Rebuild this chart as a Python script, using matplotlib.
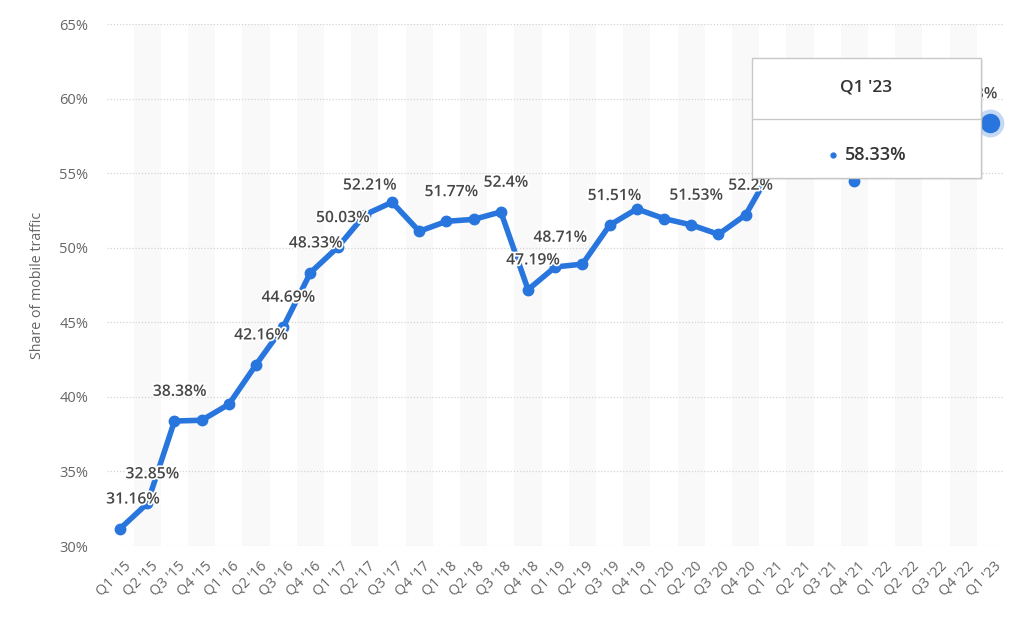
import matplotlib
matplotlib.use("Agg")
import matplotlib.pyplot as plt
import matplotlib.patheffects as pe
from matplotlib.patches import FancyBboxPatch
from matplotlib.lines import Line2D

plt.rcParams['font.family'] = ['Open Sans', 'DejaVu Sans']

categories = ["Q1 '15", "Q2 '15", "Q3 '15", "Q4 '15", "Q1 '16", "Q2 '16", "Q3 '16", "Q4 '16",
              "Q1 '17", "Q2 '17", "Q3 '17", "Q4 '17", "Q1 '18", "Q2 '18", "Q3 '18", "Q4 '18",
              "Q1 '19", "Q2 '19", "Q3 '19", "Q4 '19", "Q1 '20", "Q2 '20", "Q3 '20", "Q4 '20",
              "Q1 '21", "Q2 '21", "Q3 '21", "Q4 '21", "Q1 '22", "Q2 '22", "Q3 '22", "Q4 '22",
              "Q1 '23"]
values = [31.16, 32.85, 38.38, 38.43, 39.5, 42.16, 44.69, 48.33,
          50.03, 52.21, 53.05, 51.1, 51.77, 51.9, 52.4, 47.19,
          48.71, 48.9, 51.51, 52.6, 51.95, 51.53, 50.9, 52.2,
          55.4, 55.9, 56.4, 54.5, 57.0, 58.9, 59.0, 59.2,
          58.33]
labelled = ["Q1 '15", "Q2 '15", "Q3 '15", "Q2 '16", "Q3 '16", "Q4 '16", "Q1 '17", "Q2 '17",
            "Q1 '18", "Q3 '18", "Q4 '18", "Q1 '19", "Q3 '19", "Q2 '20", "Q4 '20", "Q1 '23"]
yticks = [30, 35, 40, 45, 50, 55, 60, 65]
ylabel = "Share of mobile traffic"
tooltip_title = "Q1 '23"
tooltip_value = "58.33%"

blue = "#2876dd"

fig = plt.figure(figsize=(10.24, 6.29), dpi=100)
ax = fig.add_axes([106.5 / 1024, (629 - 546) / 629, 897.5 / 1024, 522 / 629])

n = len(categories)
x = list(range(n))
ax.set_xlim(-0.5, n - 0.5)
ax.set_ylim(30, 65)

# alternating bands
for i in range(1, n, 2):
    ax.axvspan(i - 0.5, i + 0.5, color="#f9f9f9", zorder=0, lw=0)

# grid
for yv in yticks:
    ax.axhline(yv, color="#d4d4d4", lw=0.9, ls=(0, (1, 1.5)), zorder=1)

for s in ax.spines.values():
    s.set_visible(False)
ax.tick_params(length=0)
ax.set_yticks(yticks)
ax.set_yticklabels([f"{v}%" for v in yticks], color="#666666", fontsize=10.5)
ax.tick_params(axis='y', pad=13)
ax.set_xticks(x)
ax.set_xticklabels(categories, rotation=45, ha='right', va='top', rotation_mode='anchor',
                   color="#666666", fontsize=10.3)
ax.tick_params(axis='x', pad=9)
for lbl in ax.get_xticklabels():
    lbl.set_transform(lbl.get_transform() + matplotlib.transforms.ScaledTranslation(3 / 100, 0, fig.dpi_scale_trans))
ax.set_ylabel(ylabel, color="#666666", fontsize=10.3, labelpad=10)

ax.plot(x, values, color=blue, lw=4.0, marker='o', ms=7.5, zorder=3, solid_joinstyle='round')

# hovered last point
ax.plot([x[-1]], [values[-1]], 'o', ms=19, color="#c5d9f5", zorder=4, clip_on=False)
ax.plot([x[-1]], [values[-1]], 'o', ms=13, color=blue, zorder=5, clip_on=False)

# data labels
for cat in labelled:
    i = categories.index(cat)
    v = values[i]
    txt = f"{v:g}%"
    if i == 0:
        xo = 13
    elif i == n - 1:
        xo = -20
    else:
        xo = 5
    ax.annotate(txt, (i, v), xytext=(xo * 0.72, 21), textcoords='offset points',
                ha='center', va='center', fontsize=11.3, fontweight='semibold', color="#474747",
                zorder=6, path_effects=[pe.withStroke(linewidth=2.5, foreground='white')])

# tooltip
ftrans = fig.transFigure
def fx(px):
    return px / 1024
def fy(py):
    return (629 - py) / 629

shadow = FancyBboxPatch((fx(754), fy(180)), fx(981) - fx(752), fy(58) - fy(178),
                        boxstyle="square,pad=0", transform=ftrans, facecolor="#000000",
                        alpha=0.06, edgecolor='none', zorder=10)
fig.patches.append(shadow)
box = FancyBboxPatch((fx(752), fy(178)), fx(981) - fx(752), fy(58) - fy(178),
                     boxstyle="square,pad=0", transform=ftrans, facecolor="white",
                     edgecolor="#c8c8c8", lw=1.0, zorder=11)
fig.patches.append(box)
fig.lines.append(Line2D([fx(752), fx(981)], [fy(119), fy(119)], transform=ftrans,
                        color="#c8c8c8", lw=1.0, zorder=12))
fig.text(fx(866), fy(88), tooltip_title, ha='center', va='center', fontsize=12.5,
         fontweight='semibold', color="#333333", zorder=13)
fig.lines.append(Line2D([fx(833)], [fy(155)], transform=ftrans, marker='o', ms=3.5,
                        color=blue, lw=0, zorder=13))
fig.text(fx(876), fy(155), tooltip_value, ha='center', va='center', fontsize=13,
         fontweight='semibold', color="#333333", zorder=13)

fig.savefig("out.png", dpi=100, facecolor="white")
